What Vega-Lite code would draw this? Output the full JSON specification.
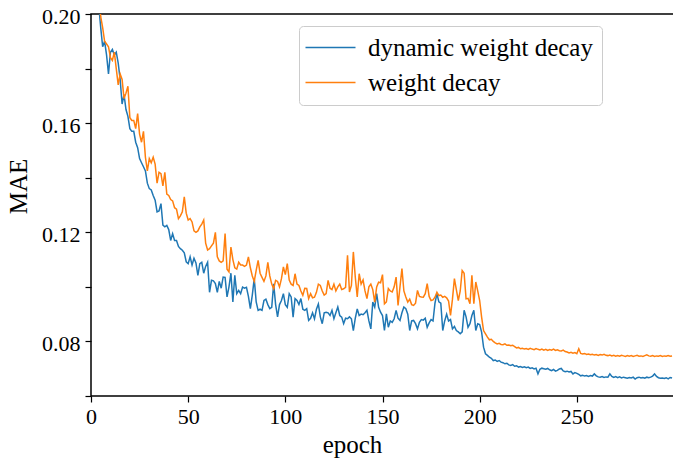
{
"$schema":"https://vega.github.io/schema/vega-lite/v6.json",
"width":583,"height":382,
"autosize":{"type":"none"},
"padding":{"left":91,"top":14,"right":0,"bottom":65},
"background":"white",
"config":{
"font":"Liberation Serif",
"view":{"stroke":"black","strokeWidth":1.5},
"axis":{"domain":false,"grid":false,"tickColor":"black","tickWidth":1.2,"tickSize":6,"labelFont":"Liberation Serif","labelFontSize":22,"labelColor":"black","titleFont":"Liberation Serif","titleFontSize":25,"titleFontWeight":"normal","titleColor":"black"},
"legend":{"orient":"none","legendX":208,"legendY":12,"strokeColor":"#cccccc","fillColor":"white","cornerRadius":4,"padding":9,"symbolType":"M-2.5,0H2.5","symbolSize":400,"symbolStrokeWidth":1.5,"symbolOffset":10,"labelFontSize":25,"labelFont":"Liberation Serif","labelColor":"black","labelLimit":500,"labelOffset":25,"rowPadding":9}
},
"datasets":{
"dyn":[
{"epoch":0,"MAE":0.262},{"epoch":1,"MAE":0.245},{"epoch":2,"MAE":0.228},{"epoch":3,"MAE":0.213},{"epoch":4,"MAE":0.203},{"epoch":5,"MAE":0.195},{"epoch":6,"MAE":0.188},{"epoch":7,"MAE":0.19},{"epoch":8,"MAE":0.185},{"epoch":9,"MAE":0.178},
{"epoch":10,"MAE":0.186},{"epoch":11,"MAE":0.187},{"epoch":12,"MAE":0.185},{"epoch":13,"MAE":0.186},{"epoch":14,"MAE":0.182},{"epoch":15,"MAE":0.176},{"epoch":16,"MAE":0.167},{"epoch":17,"MAE":0.1705},{"epoch":18,"MAE":0.165},{"epoch":19,"MAE":0.1625},
{"epoch":20,"MAE":0.158},{"epoch":21,"MAE":0.157},{"epoch":22,"MAE":0.157},{"epoch":23,"MAE":0.153},{"epoch":24,"MAE":0.151},{"epoch":25,"MAE":0.147},{"epoch":26,"MAE":0.1455},{"epoch":27,"MAE":0.144},{"epoch":28,"MAE":0.1425},{"epoch":29,"MAE":0.138},
{"epoch":30,"MAE":0.136},{"epoch":31,"MAE":0.1355},{"epoch":32,"MAE":0.1335},{"epoch":33,"MAE":0.1318},{"epoch":34,"MAE":0.1275},{"epoch":35,"MAE":0.1278},{"epoch":36,"MAE":0.1305},{"epoch":37,"MAE":0.1226},{"epoch":38,"MAE":0.122},{"epoch":39,"MAE":0.1225},
{"epoch":40,"MAE":0.121},{"epoch":41,"MAE":0.117},{"epoch":42,"MAE":0.1195},{"epoch":43,"MAE":0.117},{"epoch":44,"MAE":0.117},{"epoch":45,"MAE":0.1148},{"epoch":46,"MAE":0.114},{"epoch":47,"MAE":0.1134},{"epoch":48,"MAE":0.1125},{"epoch":49,"MAE":0.1092},
{"epoch":50,"MAE":0.1085},{"epoch":51,"MAE":0.111},{"epoch":52,"MAE":0.108},{"epoch":53,"MAE":0.1105},{"epoch":54,"MAE":0.1088},{"epoch":55,"MAE":0.1042},{"epoch":56,"MAE":0.1085},{"epoch":57,"MAE":0.109},{"epoch":58,"MAE":0.105},{"epoch":59,"MAE":0.1075},
{"epoch":60,"MAE":0.109},{"epoch":61,"MAE":0.098},{"epoch":62,"MAE":0.1024},{"epoch":63,"MAE":0.1022},{"epoch":64,"MAE":0.1012},{"epoch":65,"MAE":0.098},{"epoch":66,"MAE":0.102},{"epoch":67,"MAE":0.0995},{"epoch":68,"MAE":0.1036},{"epoch":69,"MAE":0.1035},
{"epoch":70,"MAE":0.0963},{"epoch":71,"MAE":0.1},{"epoch":72,"MAE":0.105},{"epoch":73,"MAE":0.0945},{"epoch":74,"MAE":0.1042},{"epoch":75,"MAE":0.0975},{"epoch":76,"MAE":0.0987},{"epoch":77,"MAE":0.0975},{"epoch":78,"MAE":0.0999},{"epoch":79,"MAE":0.0995},
{"epoch":80,"MAE":0.0998},{"epoch":81,"MAE":0.0965},{"epoch":82,"MAE":0.092},{"epoch":83,"MAE":0.097},{"epoch":84,"MAE":0.103},{"epoch":85,"MAE":0.0945},{"epoch":86,"MAE":0.0914},{"epoch":87,"MAE":0.0918},{"epoch":88,"MAE":0.0914},{"epoch":89,"MAE":0.095},
{"epoch":90,"MAE":0.0955},{"epoch":91,"MAE":0.0935},{"epoch":92,"MAE":0.092},{"epoch":93,"MAE":0.0925},{"epoch":94,"MAE":0.1011},{"epoch":95,"MAE":0.0935},{"epoch":96,"MAE":0.089},{"epoch":97,"MAE":0.0935},{"epoch":98,"MAE":0.095},{"epoch":99,"MAE":0.0975},
{"epoch":100,"MAE":0.0935},{"epoch":101,"MAE":0.0925},{"epoch":102,"MAE":0.0975},{"epoch":103,"MAE":0.0963},{"epoch":104,"MAE":0.0889},{"epoch":105,"MAE":0.0957},{"epoch":106,"MAE":0.095},{"epoch":107,"MAE":0.0935},{"epoch":108,"MAE":0.0957},{"epoch":109,"MAE":0.0918},
{"epoch":110,"MAE":0.0914},{"epoch":111,"MAE":0.092},{"epoch":112,"MAE":0.0877},{"epoch":113,"MAE":0.0885},{"epoch":114,"MAE":0.0905},{"epoch":115,"MAE":0.0883},{"epoch":116,"MAE":0.0918},{"epoch":117,"MAE":0.0937},{"epoch":118,"MAE":0.089},{"epoch":119,"MAE":0.0865},
{"epoch":120,"MAE":0.0905},{"epoch":121,"MAE":0.0907},{"epoch":122,"MAE":0.0905},{"epoch":123,"MAE":0.0895},{"epoch":124,"MAE":0.0914},{"epoch":125,"MAE":0.0883},{"epoch":126,"MAE":0.0905},{"epoch":127,"MAE":0.0926},{"epoch":128,"MAE":0.0895},{"epoch":129,"MAE":0.0889},
{"epoch":130,"MAE":0.0865},{"epoch":131,"MAE":0.0885},{"epoch":132,"MAE":0.0883},{"epoch":133,"MAE":0.089},{"epoch":134,"MAE":0.0883},{"epoch":135,"MAE":0.084},{"epoch":136,"MAE":0.0885},{"epoch":137,"MAE":0.0919},{"epoch":138,"MAE":0.0895},{"epoch":139,"MAE":0.09},
{"epoch":140,"MAE":0.0898},{"epoch":141,"MAE":0.0905},{"epoch":142,"MAE":0.0914},{"epoch":143,"MAE":0.0875},{"epoch":144,"MAE":0.0846},{"epoch":145,"MAE":0.0944},{"epoch":146,"MAE":0.0926},{"epoch":147,"MAE":0.0975},{"epoch":148,"MAE":0.0925},{"epoch":149,"MAE":0.0907},
{"epoch":150,"MAE":0.0895},{"epoch":151,"MAE":0.084},{"epoch":152,"MAE":0.0901},{"epoch":153,"MAE":0.0852},{"epoch":154,"MAE":0.0875},{"epoch":155,"MAE":0.087},{"epoch":156,"MAE":0.0883},{"epoch":157,"MAE":0.0914},{"epoch":158,"MAE":0.0885},{"epoch":159,"MAE":0.0877},
{"epoch":160,"MAE":0.0905},{"epoch":161,"MAE":0.0926},{"epoch":162,"MAE":0.092},{"epoch":163,"MAE":0.09},{"epoch":164,"MAE":0.084},{"epoch":165,"MAE":0.0875},{"epoch":166,"MAE":0.0877},{"epoch":167,"MAE":0.0865},{"epoch":168,"MAE":0.0846},{"epoch":169,"MAE":0.087},
{"epoch":170,"MAE":0.088},{"epoch":171,"MAE":0.0878},{"epoch":172,"MAE":0.0885},{"epoch":173,"MAE":0.0852},{"epoch":174,"MAE":0.0868},{"epoch":175,"MAE":0.088},{"epoch":176,"MAE":0.0875},{"epoch":177,"MAE":0.094},{"epoch":178,"MAE":0.0975},{"epoch":179,"MAE":0.0945},
{"epoch":180,"MAE":0.094},{"epoch":181,"MAE":0.084},{"epoch":182,"MAE":0.0875},{"epoch":183,"MAE":0.09},{"epoch":184,"MAE":0.0875},{"epoch":185,"MAE":0.088},{"epoch":186,"MAE":0.0846},{"epoch":187,"MAE":0.0855},{"epoch":188,"MAE":0.084},{"epoch":189,"MAE":0.0835},
{"epoch":190,"MAE":0.0828},{"epoch":191,"MAE":0.0835},{"epoch":192,"MAE":0.0914},{"epoch":193,"MAE":0.089},{"epoch":194,"MAE":0.0852},{"epoch":195,"MAE":0.0865},{"epoch":196,"MAE":0.0895},{"epoch":197,"MAE":0.0914},{"epoch":198,"MAE":0.084},{"epoch":199,"MAE":0.0865},
{"epoch":200,"MAE":0.0862},{"epoch":201,"MAE":0.0834},{"epoch":202,"MAE":0.0779},{"epoch":203,"MAE":0.0755},{"epoch":204,"MAE":0.0749},{"epoch":205,"MAE":0.0742},{"epoch":206,"MAE":0.0738},{"epoch":207,"MAE":0.073},{"epoch":208,"MAE":0.0732},{"epoch":209,"MAE":0.0727},
{"epoch":210,"MAE":0.073},{"epoch":211,"MAE":0.0724},{"epoch":212,"MAE":0.0722},{"epoch":213,"MAE":0.0718},{"epoch":214,"MAE":0.072},{"epoch":215,"MAE":0.0714},{"epoch":216,"MAE":0.0712},{"epoch":217,"MAE":0.0715},{"epoch":218,"MAE":0.0709},{"epoch":219,"MAE":0.0711},
{"epoch":220,"MAE":0.0706},{"epoch":221,"MAE":0.0708},{"epoch":222,"MAE":0.0705},{"epoch":223,"MAE":0.0707},{"epoch":224,"MAE":0.0704},{"epoch":225,"MAE":0.0706},{"epoch":226,"MAE":0.0701},{"epoch":227,"MAE":0.0703},{"epoch":228,"MAE":0.0699},{"epoch":229,"MAE":0.0702},
{"epoch":230,"MAE":0.0681},{"epoch":231,"MAE":0.0698},{"epoch":232,"MAE":0.0702},{"epoch":233,"MAE":0.07},{"epoch":234,"MAE":0.0698},{"epoch":235,"MAE":0.0701},{"epoch":236,"MAE":0.0696},{"epoch":237,"MAE":0.0693},{"epoch":238,"MAE":0.0697},{"epoch":239,"MAE":0.0691},
{"epoch":240,"MAE":0.0694},{"epoch":241,"MAE":0.0699},{"epoch":242,"MAE":0.0701},{"epoch":243,"MAE":0.0692},{"epoch":244,"MAE":0.0689},{"epoch":245,"MAE":0.0691},{"epoch":246,"MAE":0.0688},{"epoch":247,"MAE":0.069},{"epoch":248,"MAE":0.0681},{"epoch":249,"MAE":0.0686},
{"epoch":250,"MAE":0.0683},{"epoch":251,"MAE":0.0679},{"epoch":252,"MAE":0.0674},{"epoch":253,"MAE":0.0676},{"epoch":254,"MAE":0.0673},{"epoch":255,"MAE":0.0675},{"epoch":256,"MAE":0.0672},{"epoch":257,"MAE":0.0675},{"epoch":258,"MAE":0.0673},{"epoch":259,"MAE":0.0681},
{"epoch":260,"MAE":0.0674},{"epoch":261,"MAE":0.067},{"epoch":262,"MAE":0.0669},{"epoch":263,"MAE":0.0671},{"epoch":264,"MAE":0.0668},{"epoch":265,"MAE":0.067},{"epoch":266,"MAE":0.0669},{"epoch":267,"MAE":0.0681},{"epoch":268,"MAE":0.0672},{"epoch":269,"MAE":0.0668},
{"epoch":270,"MAE":0.0671},{"epoch":271,"MAE":0.0667},{"epoch":272,"MAE":0.067},{"epoch":273,"MAE":0.0666},{"epoch":274,"MAE":0.0669},{"epoch":275,"MAE":0.0667},{"epoch":276,"MAE":0.0665},{"epoch":277,"MAE":0.0668},{"epoch":278,"MAE":0.0666},{"epoch":279,"MAE":0.0669},
{"epoch":280,"MAE":0.0662},{"epoch":281,"MAE":0.0667},{"epoch":282,"MAE":0.0669},{"epoch":283,"MAE":0.0666},{"epoch":284,"MAE":0.0668},{"epoch":285,"MAE":0.0665},{"epoch":286,"MAE":0.0669},{"epoch":287,"MAE":0.0667},{"epoch":288,"MAE":0.0669},{"epoch":289,"MAE":0.0673},
{"epoch":290,"MAE":0.0681},{"epoch":291,"MAE":0.0672},{"epoch":292,"MAE":0.0667},{"epoch":293,"MAE":0.0665},{"epoch":294,"MAE":0.0666},{"epoch":295,"MAE":0.0664},{"epoch":296,"MAE":0.0667},{"epoch":297,"MAE":0.0663},{"epoch":298,"MAE":0.0668},{"epoch":299,"MAE":0.0666}
],
"wd":[
{"epoch":0,"MAE":0.275},{"epoch":1,"MAE":0.255},{"epoch":2,"MAE":0.235},{"epoch":3,"MAE":0.22},{"epoch":4,"MAE":0.208},{"epoch":5,"MAE":0.199},{"epoch":6,"MAE":0.195},{"epoch":7,"MAE":0.19},{"epoch":8,"MAE":0.189},{"epoch":9,"MAE":0.188},
{"epoch":10,"MAE":0.184},{"epoch":11,"MAE":0.183},{"epoch":12,"MAE":0.186},{"epoch":13,"MAE":0.18},{"epoch":14,"MAE":0.174},{"epoch":15,"MAE":0.178},{"epoch":16,"MAE":0.176},{"epoch":17,"MAE":0.169},{"epoch":18,"MAE":0.171},{"epoch":19,"MAE":0.1735},
{"epoch":20,"MAE":0.162},{"epoch":21,"MAE":0.161},{"epoch":22,"MAE":0.161},{"epoch":23,"MAE":0.158},{"epoch":24,"MAE":0.1635},{"epoch":25,"MAE":0.156},{"epoch":26,"MAE":0.153},{"epoch":27,"MAE":0.157},{"epoch":28,"MAE":0.1475},{"epoch":29,"MAE":0.1425},
{"epoch":30,"MAE":0.147},{"epoch":31,"MAE":0.1455},{"epoch":32,"MAE":0.1475},{"epoch":33,"MAE":0.145},{"epoch":34,"MAE":0.138},{"epoch":35,"MAE":0.142},{"epoch":36,"MAE":0.1415},{"epoch":37,"MAE":0.137},{"epoch":38,"MAE":0.142},{"epoch":39,"MAE":0.134},
{"epoch":40,"MAE":0.1335},{"epoch":41,"MAE":0.132},{"epoch":42,"MAE":0.1315},{"epoch":43,"MAE":0.129},{"epoch":44,"MAE":0.1285},{"epoch":45,"MAE":0.125},{"epoch":46,"MAE":0.126},{"epoch":47,"MAE":0.1275},{"epoch":48,"MAE":0.133},{"epoch":49,"MAE":0.127},
{"epoch":50,"MAE":0.1245},{"epoch":51,"MAE":0.125},{"epoch":52,"MAE":0.1238},{"epoch":53,"MAE":0.1205},{"epoch":54,"MAE":0.12},{"epoch":55,"MAE":0.1205},{"epoch":56,"MAE":0.122},{"epoch":57,"MAE":0.123},{"epoch":58,"MAE":0.1245},{"epoch":59,"MAE":0.116},
{"epoch":60,"MAE":0.1135},{"epoch":61,"MAE":0.114},{"epoch":62,"MAE":0.115},{"epoch":63,"MAE":0.116},{"epoch":64,"MAE":0.12},{"epoch":65,"MAE":0.111},{"epoch":66,"MAE":0.1095},{"epoch":67,"MAE":0.109},{"epoch":68,"MAE":0.1095},{"epoch":69,"MAE":0.1195},
{"epoch":70,"MAE":0.1065},{"epoch":71,"MAE":0.1055},{"epoch":72,"MAE":0.1146},{"epoch":73,"MAE":0.11},{"epoch":74,"MAE":0.107},{"epoch":75,"MAE":0.1065},{"epoch":76,"MAE":0.109},{"epoch":77,"MAE":0.108},{"epoch":78,"MAE":0.108},{"epoch":79,"MAE":0.1075},
{"epoch":80,"MAE":0.108},{"epoch":81,"MAE":0.111},{"epoch":82,"MAE":0.107},{"epoch":83,"MAE":0.104},{"epoch":84,"MAE":0.102},{"epoch":85,"MAE":0.106},{"epoch":86,"MAE":0.1097},{"epoch":87,"MAE":0.105},{"epoch":88,"MAE":0.1035},{"epoch":89,"MAE":0.102},
{"epoch":90,"MAE":0.104},{"epoch":91,"MAE":0.109},{"epoch":92,"MAE":0.104},{"epoch":93,"MAE":0.101},{"epoch":94,"MAE":0.0993},{"epoch":95,"MAE":0.1024},{"epoch":96,"MAE":0.102},{"epoch":97,"MAE":0.1},{"epoch":98,"MAE":0.103},{"epoch":99,"MAE":0.1073},
{"epoch":100,"MAE":0.1045},{"epoch":101,"MAE":0.1085},{"epoch":102,"MAE":0.1025},{"epoch":103,"MAE":0.101},{"epoch":104,"MAE":0.1005},{"epoch":105,"MAE":0.1048},{"epoch":106,"MAE":0.101},{"epoch":107,"MAE":0.1005},{"epoch":108,"MAE":0.0985},{"epoch":109,"MAE":0.0969},
{"epoch":110,"MAE":0.0995},{"epoch":111,"MAE":0.0994},{"epoch":112,"MAE":0.0957},{"epoch":113,"MAE":0.0975},{"epoch":114,"MAE":0.096},{"epoch":115,"MAE":0.0962},{"epoch":116,"MAE":0.098},{"epoch":117,"MAE":0.101},{"epoch":118,"MAE":0.1005},{"epoch":119,"MAE":0.0985},
{"epoch":120,"MAE":0.097},{"epoch":121,"MAE":0.0975},{"epoch":122,"MAE":0.1024},{"epoch":123,"MAE":0.0995},{"epoch":124,"MAE":0.099},{"epoch":125,"MAE":0.101},{"epoch":126,"MAE":0.0985},{"epoch":127,"MAE":0.1},{"epoch":128,"MAE":0.101},{"epoch":129,"MAE":0.099},
{"epoch":130,"MAE":0.0993},{"epoch":131,"MAE":0.0998},{"epoch":132,"MAE":0.1116},{"epoch":133,"MAE":0.0981},{"epoch":134,"MAE":0.1005},{"epoch":135,"MAE":0.1128},{"epoch":136,"MAE":0.1035},{"epoch":137,"MAE":0.0963},{"epoch":138,"MAE":0.1048},{"epoch":139,"MAE":0.101},
{"epoch":140,"MAE":0.1025},{"epoch":141,"MAE":0.0985},{"epoch":142,"MAE":0.0957},{"epoch":143,"MAE":0.1},{"epoch":144,"MAE":0.101},{"epoch":145,"MAE":0.099},{"epoch":146,"MAE":0.0944},{"epoch":147,"MAE":0.1},{"epoch":148,"MAE":0.1017},{"epoch":149,"MAE":0.1015},
{"epoch":150,"MAE":0.1045},{"epoch":151,"MAE":0.0938},{"epoch":152,"MAE":0.0945},{"epoch":153,"MAE":0.0994},{"epoch":154,"MAE":0.0985},{"epoch":155,"MAE":0.0981},{"epoch":156,"MAE":0.1},{"epoch":157,"MAE":0.1036},{"epoch":158,"MAE":0.0932},{"epoch":159,"MAE":0.1},
{"epoch":160,"MAE":0.1067},{"epoch":161,"MAE":0.0985},{"epoch":162,"MAE":0.0963},{"epoch":163,"MAE":0.0944},{"epoch":164,"MAE":0.0955},{"epoch":165,"MAE":0.0935},{"epoch":166,"MAE":0.0932},{"epoch":167,"MAE":0.094},{"epoch":168,"MAE":0.0987},{"epoch":169,"MAE":0.0965},
{"epoch":170,"MAE":0.0963},{"epoch":171,"MAE":0.0962},{"epoch":172,"MAE":0.0975},{"epoch":173,"MAE":0.1012},{"epoch":174,"MAE":0.0965},{"epoch":175,"MAE":0.095},{"epoch":176,"MAE":0.0952},{"epoch":177,"MAE":0.0962},{"epoch":178,"MAE":0.098},{"epoch":179,"MAE":0.0968},
{"epoch":180,"MAE":0.097},{"epoch":181,"MAE":0.0962},{"epoch":182,"MAE":0.0965},{"epoch":183,"MAE":0.096},{"epoch":184,"MAE":0.0948},{"epoch":185,"MAE":0.0895},{"epoch":186,"MAE":0.0955},{"epoch":187,"MAE":0.103},{"epoch":188,"MAE":0.099},{"epoch":189,"MAE":0.095},
{"epoch":190,"MAE":0.0985},{"epoch":191,"MAE":0.106},{"epoch":192,"MAE":0.105},{"epoch":193,"MAE":0.0956},{"epoch":194,"MAE":0.0958},{"epoch":195,"MAE":0.0938},{"epoch":196,"MAE":0.1042},{"epoch":197,"MAE":0.0938},{"epoch":198,"MAE":0.1018},{"epoch":199,"MAE":0.0985},
{"epoch":200,"MAE":0.095},{"epoch":201,"MAE":0.0889},{"epoch":202,"MAE":0.084},{"epoch":203,"MAE":0.0828},{"epoch":204,"MAE":0.0816},{"epoch":205,"MAE":0.0806},{"epoch":206,"MAE":0.0808},{"epoch":207,"MAE":0.08},{"epoch":208,"MAE":0.0795},{"epoch":209,"MAE":0.0791},
{"epoch":210,"MAE":0.0793},{"epoch":211,"MAE":0.0789},{"epoch":212,"MAE":0.0788},{"epoch":213,"MAE":0.0791},{"epoch":214,"MAE":0.0786},{"epoch":215,"MAE":0.0787},{"epoch":216,"MAE":0.0784},{"epoch":217,"MAE":0.0786},{"epoch":218,"MAE":0.0781},{"epoch":219,"MAE":0.0776},
{"epoch":220,"MAE":0.0778},{"epoch":221,"MAE":0.0773},{"epoch":222,"MAE":0.0775},{"epoch":223,"MAE":0.0772},{"epoch":224,"MAE":0.0774},{"epoch":225,"MAE":0.0771},{"epoch":226,"MAE":0.0775},{"epoch":227,"MAE":0.0772},{"epoch":228,"MAE":0.077},{"epoch":229,"MAE":0.0774},
{"epoch":230,"MAE":0.0771},{"epoch":231,"MAE":0.0769},{"epoch":232,"MAE":0.0772},{"epoch":233,"MAE":0.0768},{"epoch":234,"MAE":0.0771},{"epoch":235,"MAE":0.0767},{"epoch":236,"MAE":0.077},{"epoch":237,"MAE":0.0768},{"epoch":238,"MAE":0.0772},{"epoch":239,"MAE":0.0767},
{"epoch":240,"MAE":0.0769},{"epoch":241,"MAE":0.0766},{"epoch":242,"MAE":0.0765},{"epoch":243,"MAE":0.0768},{"epoch":244,"MAE":0.0763},{"epoch":245,"MAE":0.0761},{"epoch":246,"MAE":0.0758},{"epoch":247,"MAE":0.076},{"epoch":248,"MAE":0.0757},{"epoch":249,"MAE":0.0759},
{"epoch":250,"MAE":0.0755},{"epoch":251,"MAE":0.0773},{"epoch":252,"MAE":0.0756},{"epoch":253,"MAE":0.0754},{"epoch":254,"MAE":0.0756},{"epoch":255,"MAE":0.0752},{"epoch":256,"MAE":0.0754},{"epoch":257,"MAE":0.0751},{"epoch":258,"MAE":0.0753},{"epoch":259,"MAE":0.075},
{"epoch":260,"MAE":0.0752},{"epoch":261,"MAE":0.0749},{"epoch":262,"MAE":0.0752},{"epoch":263,"MAE":0.075},{"epoch":264,"MAE":0.0753},{"epoch":265,"MAE":0.0749},{"epoch":266,"MAE":0.0748},{"epoch":267,"MAE":0.075},{"epoch":268,"MAE":0.0747},{"epoch":269,"MAE":0.0749},
{"epoch":270,"MAE":0.0746},{"epoch":271,"MAE":0.0748},{"epoch":272,"MAE":0.0746},{"epoch":273,"MAE":0.0749},{"epoch":274,"MAE":0.0747},{"epoch":275,"MAE":0.0745},{"epoch":276,"MAE":0.0748},{"epoch":277,"MAE":0.0746},{"epoch":278,"MAE":0.0748},{"epoch":279,"MAE":0.0745},
{"epoch":280,"MAE":0.0747},{"epoch":281,"MAE":0.0749},{"epoch":282,"MAE":0.0746},{"epoch":283,"MAE":0.0747},{"epoch":284,"MAE":0.0745},{"epoch":285,"MAE":0.0748},{"epoch":286,"MAE":0.0751},{"epoch":287,"MAE":0.0747},{"epoch":288,"MAE":0.0746},{"epoch":289,"MAE":0.0748},
{"epoch":290,"MAE":0.0745},{"epoch":291,"MAE":0.0747},{"epoch":292,"MAE":0.0746},{"epoch":293,"MAE":0.0748},{"epoch":294,"MAE":0.0745},{"epoch":295,"MAE":0.0747},{"epoch":296,"MAE":0.0746},{"epoch":297,"MAE":0.0748},{"epoch":298,"MAE":0.0746},{"epoch":299,"MAE":0.0747}
]
},
"encoding":{
"x":{"field":"epoch","type":"quantitative","scale":{"domain":[0,300],"nice":false,"zero":false},"axis":{"values":[0,50,100,150,200,250],"title":"epoch","labelFlush":false,"labelOverlap":false,"labelPadding":4,"titleX":261,"titleY":56,"titleAlign":"center","titleBaseline":"alphabetic"}},
"y":{"field":"MAE","type":"quantitative","scale":{"domain":[0.06,0.2],"nice":false,"zero":false},"axis":{"values":[0.06,0.08,0.1,0.12,0.14,0.16,0.18,0.2],"labelExpr":"(datum.value==0.08||datum.value==0.12||datum.value==0.16||datum.value==0.2) ? format(datum.value,'.2f') : ''","labelFlush":false,"labelOverlap":false,"labelPadding":5,"labelBaseline":"middle","labelOffset":2,"title":"MAE","titleX":-65,"titleY":172,"titleAngle":-90,"titleAlign":"center","titleBaseline":"alphabetic"}}
},
"layer":[
{"data":{"name":"dyn"},"mark":{"type":"line","strokeWidth":1.5,"clip":true},"encoding":{"color":{"datum":"dynamic weight decay","type":"nominal","scale":{"domain":["dynamic weight decay","weight decay"],"range":["#1f77b4","#ff7f0e"]},"legend":{"title":null}}}},
{"data":{"name":"wd"},"mark":{"type":"line","strokeWidth":1.5,"clip":true},"encoding":{"color":{"datum":"weight decay","type":"nominal","legend":{"title":null}}}}
]
}
